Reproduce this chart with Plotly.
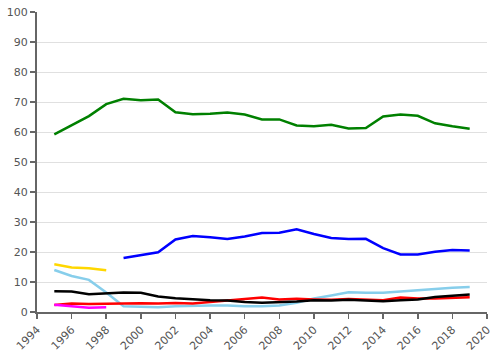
import plotly.graph_objects as go

years = list(range(1995, 2020))
green = [59.2, 62.2, 65.3, 69.3, 71.1, 70.6, 70.8, 66.6, 65.9, 66.1, 66.5, 65.8, 64.2, 64.2,
         62.2, 61.9, 62.4, 61.2, 61.3, 65.2, 65.8, 65.4, 62.9, 61.9, 61.1]
blue_years = list(range(1999, 2020))
blue = [18.0, 18.9, 19.9, 24.2, 25.3, 24.9, 24.3, 25.2, 26.3, 26.4, 27.6, 26.0, 24.7, 24.3,
        24.4, 21.3, 19.2, 19.2, 20.1, 20.7, 20.5]
black = [6.9, 6.8, 5.9, 6.3, 6.5, 6.4, 5.2, 4.6, 4.2, 3.9, 3.8, 3.3, 3.1, 3.2, 3.5, 3.9,
         3.8, 4.1, 3.9, 3.6, 3.9, 4.2, 5.0, 5.3, 5.8]
lightblue = [14.0, 12.0, 10.7, 6.5, 1.9, 1.8, 1.6, 1.9, 2.1, 2.2, 2.2, 1.9, 1.9, 2.2, 3.1,
             4.5, 5.5, 6.6, 6.4, 6.4, 6.8, 7.3, 7.8, 8.1, 8.3]
red = [2.3, 2.8, 2.7, 2.8, 3.0, 2.9, 2.8, 3.0, 2.8, 3.3, 3.7, 4.3, 4.8, 4.2, 4.4, 4.2, 4.1,
       4.3, 4.2, 3.9, 4.8, 4.5, 4.5, 4.6, 4.9]
short_years = [1995, 1996, 1997, 1998]
yellow = [15.9, 14.8, 14.6, 13.9]
magenta = [2.4, 2.0, 1.4, 1.6]

x_ticks = list(range(1994, 2021, 2))
y_ticks = list(range(0, 101, 10))

series = [
    (years, green, "#008000"),
    (blue_years, blue, "#0000FF"),
    (years, lightblue, "#87CEEB"),
    (years, red, "#FF0000"),
    (years, black, "#000000"),
    (short_years, yellow, "#FFD700"),
    (short_years, magenta, "#FF00FF"),
]

fig = go.Figure()
for xs, ys, c in series:
    fig.add_trace(go.Scatter(x=xs, y=ys, mode="lines", line=dict(color=c, width=2.5),
                             showlegend=False, hoverinfo="skip"))

axis_font = dict(family="DejaVu Sans", size=11, color="#555555")
fig.update_layout(
    width=501, height=355,
    margin=dict(l=37, r=14, t=12, b=43),
    plot_bgcolor="white", paper_bgcolor="white",
    xaxis=dict(range=[1994, 2020], tickvals=x_ticks, ticktext=[str(v) for v in x_ticks],
               tickangle=-45, showgrid=False, zeroline=False, showline=True,
               linecolor="#666666", linewidth=2, ticks="outside", ticklen=5,
               tickwidth=1.5, tickcolor="#666666", tickfont=axis_font, automargin=False),
    yaxis=dict(range=[0, 100], tickvals=y_ticks, showgrid=True, gridcolor="#e0e0e0",
               gridwidth=1, zeroline=False, showline=True, linecolor="#666666",
               linewidth=2, ticks="outside", ticklen=5, tickwidth=1.5,
               tickcolor="#666666", tickfont=axis_font, automargin=False),
)
fig.write_html("out.html", config={"displayModeBar": False, "staticPlot": True},
               post_script="document.body.style.margin='0';document.body.style.overflow='hidden';")
